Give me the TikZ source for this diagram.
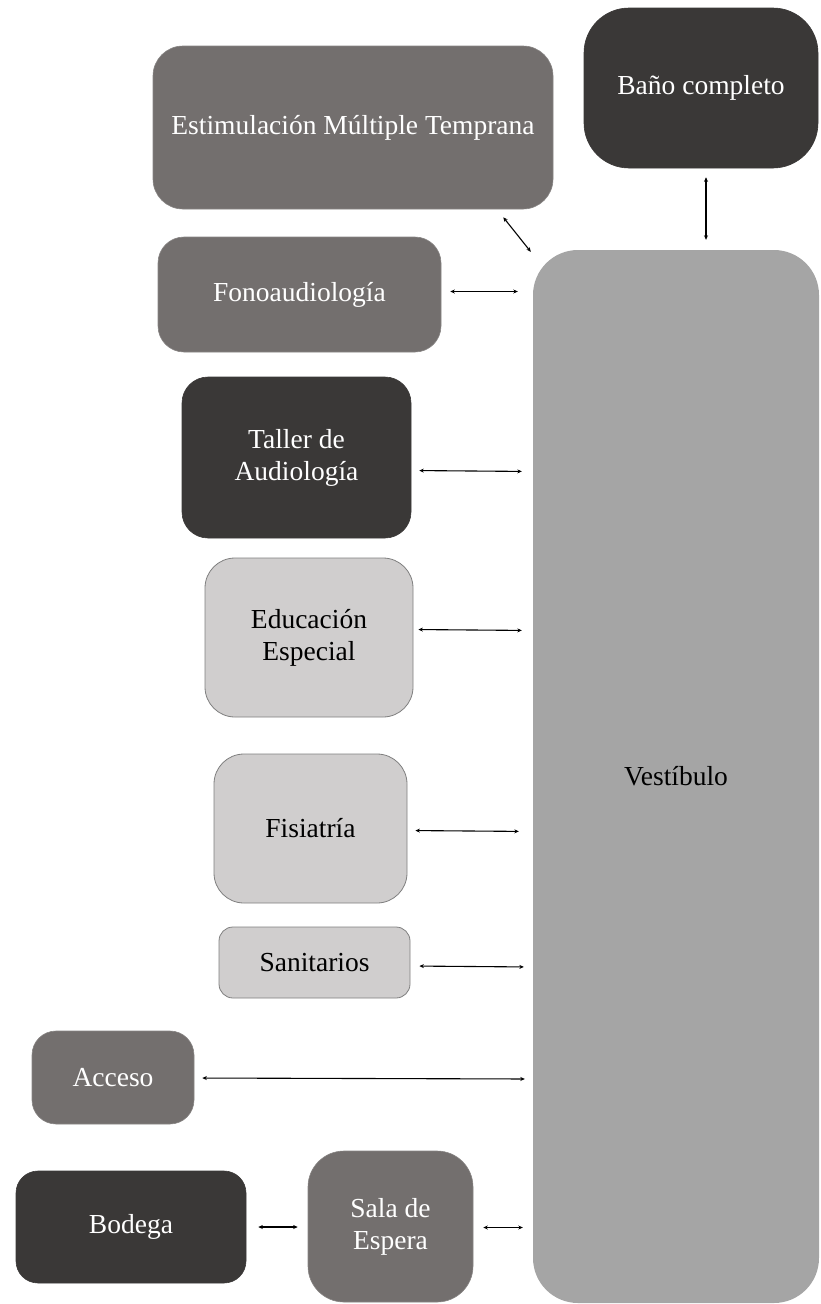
\documentclass[tikz,border=0pt]{standalone}
\usepackage{fontspec}
\setmainfont{Liberation Serif}
\usetikzlibrary{arrows.meta}
\definecolor{medgray}{HTML}{736F6E}
\definecolor{darkgray}{HTML}{3A3837}
\definecolor{lightgray}{HTML}{D0CECE}
\definecolor{hallgray}{HTML}{A5A5A5}
\definecolor{edgegray}{HTML}{7F7F7F}
\begin{document}
\begin{tikzpicture}[x=1pt,y=1pt,
  room/.style={rounded corners=#1, inner sep=0pt, align=center,
    font=\fontsize{27.5}{32}\selectfont},
  room/.default=28pt,
  medroom/.style={room=#1, fill=medgray, draw=medgray!85!white, line width=0.6pt, text=white},
  medroom/.default=28pt,
  darkroom/.style={room=#1, fill=darkgray, draw=darkgray, line width=0.6pt, text=white},
  darkroom/.default=28pt,
  lightroom/.style={room=#1, fill=lightgray, draw=edgegray, line width=0.8pt, text=black},
  lightroom/.default=28pt,
  link/.style={{Stealth[length=4.5pt,width=4pt]}-{Stealth[length=4.5pt,width=4pt]},
    line width=1.1pt, black}]
\useasboundingbox (0,0) rectangle (820,-1304);

% central hall
\node[room=45pt, fill=hallgray, minimum width=286, minimum height=1053,
  text=black] (vest) at (676,-776.5) {Vestíbulo};

% rooms around the hall
\node[medroom=30pt, minimum width=400, minimum height=163] (estim) at (353,-127.5)
  {Estimulación Múltiple Temprana};
\node[darkroom=45pt, minimum width=234, minimum height=160] (bano) at (701,-88)
  {Baño completo};
\node[medroom=26pt, minimum width=283, minimum height=115] (fono) at (299.5,-294.5)
  {Fonoaudiología};
\node[darkroom=26pt, minimum width=229, minimum height=161] (taller) at (296.5,-457.5)
  {Taller de\\Audiología};
\node[lightroom=30pt, minimum width=208, minimum height=159] (edu) at (309,-637.5)
  {Educación\\Especial};
\node[lightroom=30pt, minimum width=193, minimum height=149] (fisia) at (310.5,-828.5)
  {Fisiatría};
\node[lightroom=14pt, minimum width=191, minimum height=71] (sanit) at (314.5,-962.5)
  {Sanitarios};
\node[medroom=24pt, minimum width=162, minimum height=93] (acceso) at (113,-1077.5)
  {Acceso};
\node[darkroom=22pt, minimum width=230, minimum height=112] (bodega) at (131,-1227)
  {Bodega};
\node[medroom=36pt, minimum width=165, minimum height=151] (sala) at (390.5,-1226.5)
  {Sala de\\Espera};

% connections
\draw[link] ([shift={(-50,-8)}]estim.south east) -- ([shift={(-2,-2)}]vest.north west);
\draw[link, shorten <=9pt, shorten >=10pt] ([xshift=5]bano.south) -- ([xshift=5]bano.south |- vest.north);
\draw[link, shorten <=9pt, shorten >=15pt] ([yshift=3]fono.east) -- ([yshift=3]fono.east -| vest.west);
\draw[link, shorten <=8pt, shorten >=11pt] ([yshift=-13]taller.east) -- ([yshift=-14]taller.east -| vest.west);
\draw[link, shorten <=5pt, shorten >=11pt] ([yshift=8]edu.east) -- ([yshift=7]edu.east -| vest.west);
\draw[link, shorten <=8pt, shorten >=14pt] ([yshift=-2]fisia.east) -- ([yshift=-3]fisia.east -| vest.west);
\draw[link, shorten <=9pt, shorten >=9pt] ([yshift=-3.5]sanit.east) -- ([yshift=-4.5]sanit.east -| vest.west);
\draw[link, shorten <=8pt, shorten >=8pt] ([yshift=-0.5]acceso.east) -- ([yshift=-1.5]acceso.east -| vest.west);
\draw[link, shorten <=12pt, shorten >=10pt] (bodega.east) -- (bodega.east -| sala.west);
\draw[link, shorten <=10pt, shorten >=10pt] ([yshift=-1]sala.east) -- ([yshift=-1]sala.east -| vest.west);
\end{tikzpicture}
\end{document}
